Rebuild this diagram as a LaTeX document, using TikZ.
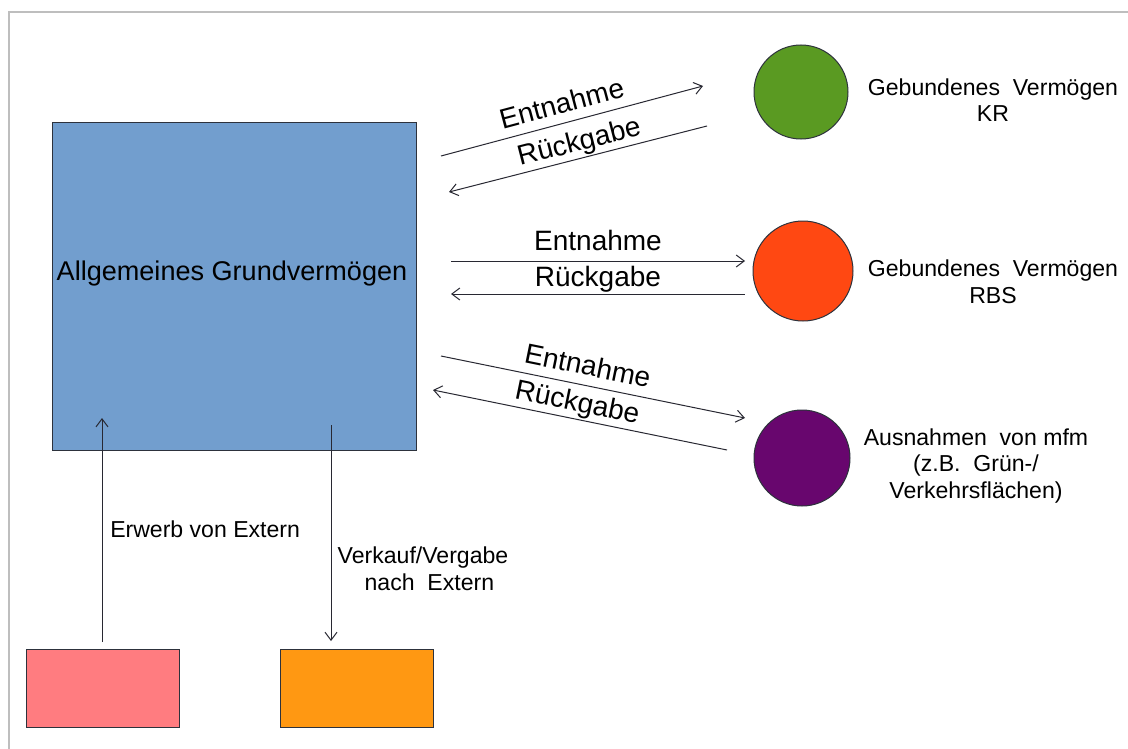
\documentclass[tikz,border=0pt]{standalone}
\usepackage{fontspec}
\setmainfont{Liberation Sans}
\usetikzlibrary{arrows.meta}
\definecolor{frame}{RGB}{190,190,190}
\definecolor{bluefill}{RGB}{114,158,206}
\definecolor{edge}{RGB}{45,50,60}
\definecolor{greenfill}{RGB}{90,154,34}
\definecolor{redfill}{RGB}{255,72,18}
\definecolor{purplefill}{RGB}{104,6,110}
\definecolor{pinkfill}{RGB}{255,124,128}
\definecolor{orangefill}{RGB}{255,152,18}
\definecolor{linecol}{RGB}{40,40,50}
\begin{document}
\begin{tikzpicture}[x=0.75pt,y=-0.75pt,
  shapebox/.style={draw=edge, line width=0.75pt, inner sep=0pt},
  disc/.style={circle, draw=edge, line width=0.75pt, inner sep=0pt},
  arr/.style={draw=linecol, line width=0.75pt, -{Straight Barb[length=6pt,width=9pt]}},
  rarr/.style={draw=linecol, line width=0.75pt, {Straight Barb[length=6pt,width=9pt]}-},
  big/.style={font=\fontsize{20.3}{24}\selectfont},
  lbl/.style={font=\fontsize{21}{25}\selectfont, sloped, above, inner sep=1pt},
  side/.style={font=\fontsize{17.3}{20}\selectfont, align=center, inner sep=0pt},
]
\useasboundingbox (0,0) rectangle (1128,749);
\fill[white] (0,0) rectangle (1128,749);
\draw[frame, line width=1.5pt] (9,749) -- (9,12) -- (1128,12);

% shapes
\node[shapebox, fill=bluefill, minimum width=273pt, minimum height=246pt] (main) at (234,286) {};
\node[big] (maintext) at (232,273) {Allgemeines Grundvermögen};
\node[disc, fill=greenfill, minimum size=70.5pt] (kr) at (801,92) {};
\node[disc, fill=redfill, minimum size=75pt] (rbs) at (803,271) {};
\node[disc, fill=purplefill, minimum size=72pt] (mfm) at (802,458) {};
\node[shapebox, fill=pinkfill, minimum width=114.75pt, minimum height=58.5pt] (pink) at (102.5,688) {};
\node[shapebox, fill=orangefill, minimum width=114.75pt, minimum height=58.5pt] (orange) at (356.5,688) {};

% side texts
\node[side] (krtext) at (993,100) {Gebundenes\ \ Vermögen\\KR};
\node[side] (rbstext) at (993,282) {Gebundenes\ \ Vermögen\\RBS};
\node[side] (mfmtext) at (976,466) {Ausnahmen\ \ von mfm\\(z.B.\ \ Grün-/\\Verkehrsflächen)};

% arrow end coordinates
\coordinate (e1s) at (441,156); \coordinate (e1e) at (703,86);
\coordinate (r1s) at (449,192); \coordinate (r1e) at (707,126);
\coordinate (e2s) at (451,261); \coordinate (e2e) at (745,261);
\coordinate (r2s) at (451,294); \coordinate (r2e) at (745,294);
\coordinate (e3s) at (441,356); \coordinate (e3e) at (745,418);
\coordinate (r3s) at (433,390); \coordinate (r3e) at (727,450);
\coordinate (ups) at (102,642); \coordinate (upe) at (102,418);
\coordinate (dns) at (331,425); \coordinate (dne) at (331,641);

\draw[arr] (e1s) -- node[lbl, pos=0.48, above=6pt] {Entnahme} (e1e);
\draw[rarr] (r1s) -- node[lbl, pos=0.52, above=0pt] {Rückgabe} (r1e);
\draw[arr] (e2s) -- node[lbl, above=6.5pt] {Entnahme} (e2e);
\draw[rarr] (r2s) -- node[lbl] {Rückgabe} (r2e);
\draw[arr] (e3s) -- node[lbl, pos=0.47, above=6pt] {Entnahme} (e3e);
\draw[rarr] (r3s) -- node[lbl, pos=0.48] {Rückgabe} (r3e);

\draw[arr] (ups) -- (upe);
\draw[arr] (dns) -- (dne);
\node[side, anchor=west] (erwerb) at (110,529) {Erwerb von Extern};
\node[side] (verkauf) at (423,569) {Verkauf/Vergabe\\\ \ nach\ \ Extern};
\end{tikzpicture}
\end{document}
